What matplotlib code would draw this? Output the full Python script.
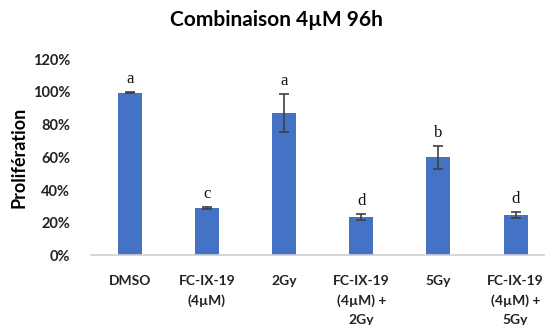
import numpy as np
import matplotlib.pyplot as plt
from matplotlib.ticker import PercentFormatter

# Data
categories = ["DMSO", "FC-IX-19\n(4µM)", "2Gy", "FC-IX-19\n(4µM) +\n2Gy",
              "5Gy", "FC-IX-19\n(4µM) +\n5Gy"]
values = [99.5, 29, 87, 23.5, 60, 24.8]
errors = [0.4, 0.6, 11.8, 1.8, 7.2, 1.7]
letters = ["a", "c", "a", "d", "b", "d"]

plt.rcParams['font.family'] = ['Lato', 'DejaVu Sans']

fig = plt.figure(figsize=(5.45, 3.25), dpi=100)
ax = fig.add_axes([0.167, 0.214, 0.833, 0.604])

x = np.arange(len(categories))
ax.bar(x, values, width=0.31, color='#4472C4', zorder=2)
ax.errorbar(x, values, yerr=errors, fmt='none', ecolor='#404040',
            elinewidth=1.2, capsize=3.5, capthick=1.2, zorder=3)

# significance letters
for xi, v, e, lab in zip(x, values, errors, letters):
    ax.text(xi, v + e + 5.5, lab, ha='center', va='baseline',
            fontsize=12, family='Liberation Serif', color='#111111')

ax.set_ylim(0, 120)
ax.set_xlim(-0.5, 5.38)
ax.set_yticks(np.arange(0, 121, 20))
ax.yaxis.set_major_formatter(PercentFormatter(decimals=0))
ax.set_xticks(x)
ax.set_xticklabels(categories, fontweight='bold', fontsize=10, linespacing=1.7)
for lab in ax.get_yticklabels():
    lab.set_fontweight('bold')
    lab.set_fontsize(10.5)

ax.tick_params(axis='both', length=0, colors='#222222')
ax.tick_params(axis='x', pad=14)
ax.tick_params(axis='y', pad=15)
for side in ['top', 'right', 'left']:
    ax.spines[side].set_visible(False)
ax.spines['bottom'].set_color('#D0D0D0')
ax.spines['bottom'].set_linewidth(1.2)

ax.set_ylabel('Prolifération', fontweight='bold', fontsize=13, labelpad=4)
fig.text(0.508, 0.938, 'Combinaison 4µM 96h', ha='center', va='center',
         fontweight='bold', fontsize=15)

plt.savefig("out.png", dpi=100)
